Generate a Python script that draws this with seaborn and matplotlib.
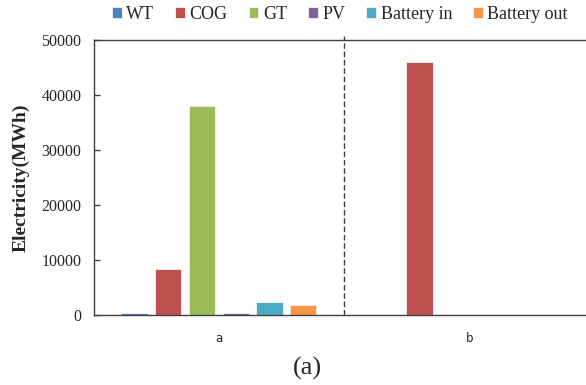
import matplotlib
matplotlib.use("Agg")
import matplotlib.pyplot as plt
import pandas as pd
import seaborn as sns

# chart values
groups = ["a", "b"]
sources = ["WT", "COG", "GT", "PV", "Battery in", "Battery out"]
values_a = [400, 8400, 38000, 350, 2300, 1800]
values_b = [0, 46000, 0, 0, 0, 0]
colors = ["#4F81BD", "#C0504D", "#9BBB59", "#8064A2", "#4BACC6", "#F79646"]
yticks = [0, 10000, 20000, 30000, 40000, 50000]

df = pd.DataFrame({
    "group": ["a"] * len(sources) + ["b"] * len(sources),
    "source": sources * 2,
    "value": values_a + values_b,
})

sns.set_style("white")
plt.rcParams["font.family"] = ["Liberation Serif", "DejaVu Serif"]

fig = plt.figure(figsize=(5.86, 3.85), dpi=100)
ax = fig.add_axes([0.160, 0.182, 0.840, 0.714])

sns.barplot(data=df, x="group", y="value", hue="source", order=groups,
            hue_order=sources, palette=colors, saturation=1, width=0.806,
            gap=0.22, edgecolor="#f4f4f4", linewidth=0.6, ax=ax)

# dashed separator between the two cases
ax.axvline(0.5, ymin=0, ymax=1.015, color="#404040", linestyle=(0, (4, 2)),
           linewidth=1, clip_on=False)

ax.set_xlim(-0.498, 1.462)
ax.set_ylim(0, 50000)
ax.set_yticks(yticks)
ax.set_xlabel("")
ax.set_ylabel("Electricity(MWh)", fontsize=14, fontweight="bold", labelpad=8.5)
ax.tick_params(axis="y", direction="in", length=4, width=1, color="#404040",
               labelsize=11.5, pad=9, left=True)
ax.tick_params(axis="x", length=0, pad=12)
for lab in ax.get_xticklabels():
    lab.set_fontfamily("DejaVu Sans")
    lab.set_fontsize(8.5)

for side in ["left", "bottom", "top"]:
    ax.spines[side].set_visible(True)
    ax.spines[side].set_color("#404040")
    ax.spines[side].set_linewidth(1)
ax.spines["right"].set_visible(False)

handles, labels = ax.get_legend_handles_labels()
ax.legend_.remove()
fig.legend(handles, labels, loc="center", bbox_to_anchor=(0.58, 0.962), ncol=6,
           frameon=False, fontsize=13, handlelength=0.55, handleheight=0.55,
           handletextpad=0.25, columnspacing=1.15, borderaxespad=0)

fig.text(0.524, 0.042, "(a)", ha="center", va="center", fontsize=19)

fig.savefig("out.png", dpi=100)
